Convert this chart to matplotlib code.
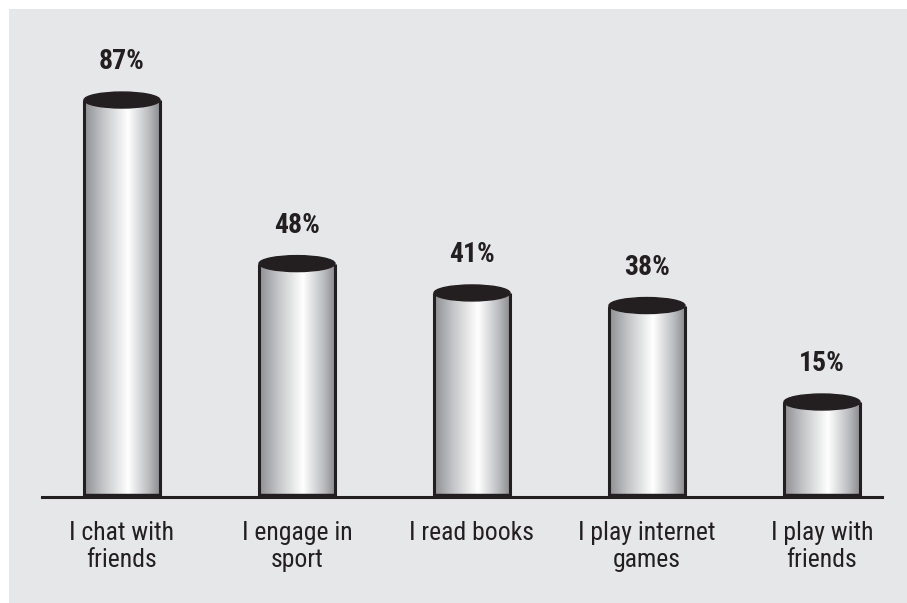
import numpy as np
import matplotlib
matplotlib.use("Agg")
import matplotlib.pyplot as plt
from matplotlib import font_manager
from matplotlib.patches import Rectangle, Ellipse
from matplotlib.colors import LinearSegmentedColormap

categories = ["I chat with\nfriends", "I engage in\nsport", "I read books",
              "I play internet\ngames", "I play with\nfriends"]
values = [87, 48, 41, 38, 15]
value_labels = ["87%", "48%", "41%", "38%", "15%"]

INK = "#231f20"
PANEL = "#e6e7e8"

# prefer a narrow sans face; fall back to a regular one at a smaller size
installed = {f.name for f in font_manager.fontManager.ttflist}
condensed = {f.name for f in font_manager.fontManager.ttflist
             if str(f.stretch) in ("condensed", "semi-condensed", "extra-condensed")
             or "Condensed" in f.name or "Narrow" in f.name}
FONT = None
STRETCH = "normal"
for name in ["Liberation Sans Narrow", "Arial Narrow", "Roboto Condensed",
             "Open Sans Condensed", "DejaVu Sans Condensed"]:
    if name in installed:
        FONT = name
        break
if FONT is None and "DejaVu Sans" in condensed:
    FONT, STRETCH = "DejaVu Sans", "condensed"
if FONT is None:
    FONT, SIZE, VSIZE = "Liberation Sans", 16.5, 17
else:
    SIZE, VSIZE = 18.5, 20
FAMILY = [FONT, "Liberation Sans", "DejaVu Sans"]

W, H = 907, 603
fig = plt.figure(figsize=(W / 100, H / 100), dpi=100)
fig.patch.set_facecolor("white")

# grey panel behind the chart
fig.add_artist(Rectangle((9 / W, -0.05), 1.1, 1.05 - 9 / H,
                         transform=fig.transFigure, facecolor=PANEL,
                         edgecolor="none", zorder=0))

base_px = 497          # baseline, pixels from top
left_px, right_px = 42, 882
top_px = 10
ax = fig.add_axes([left_px / W, (H - base_px) / H,
                   (right_px - left_px) / W, (base_px - top_px) / H])
ax.set_facecolor("none")
for s in ax.spines.values():
    s.set_visible(False)
ax.set_xticks([])
ax.set_yticks([])

step_px = 175.0
first_px = 122.0
ax.set_xlim(-(first_px - left_px) / step_px,
            (len(values) - 1) + (right_px - (first_px + step_px * (len(values) - 1))) / step_px)
y0 = -7.65
px_per_unit = 4.194
ax.set_ylim(y0, y0 + (base_px - top_px) / px_per_unit)

bar_w = 76 / step_px
ell_h = 16 / px_per_unit

# horizontal shading of the cylinder body
cyl = LinearSegmentedColormap.from_list(
    "cyl", [(0.0, "#8e8f92"), (0.25, "#c4c5c7"), (0.58, "#ffffff"),
            (0.85, "#bcbdbf"), (1.0, "#8c8d90")])
grad = np.linspace(0, 1, 256).reshape(1, -1)

for i, v in enumerate(values):
    x0 = i - bar_w / 2
    rect = Rectangle((x0, y0), bar_w, v - y0, facecolor="none",
                     edgecolor="none")
    ax.add_patch(rect)
    im = ax.imshow(grad, cmap=cyl, aspect="auto",
                   extent=(x0, x0 + bar_w, y0, v), zorder=2,
                   interpolation="bilinear")
    im.set_clip_path(rect)
    ax.plot([x0, x0], [y0, v], color=INK, lw=2.2, zorder=3,
            solid_capstyle="butt")
    ax.plot([x0 + bar_w, x0 + bar_w], [y0, v], color=INK, lw=2.2, zorder=3,
            solid_capstyle="butt")
    ax.plot([x0 - 0.005, x0 + bar_w + 0.005], [y0 + 0.35, y0 + 0.35],
            color=INK, lw=3.2, zorder=3, solid_capstyle="butt")
    ax.add_patch(Ellipse((i, v), bar_w, ell_h, facecolor=INK,
                         edgecolor=INK, lw=1.0, zorder=4))
    ax.annotate(value_labels[i], (i, v + ell_h / 2), xytext=(0, 12),
                textcoords="offset points", ha="center", va="bottom",
                fontsize=VSIZE, fontweight="bold", color=INK, family=FAMILY,
                fontstretch=STRETCH, zorder=5, annotation_clip=False)
    ax.text(i, y0 - 24 / px_per_unit, categories[i], ha="center", va="top",
            fontsize=SIZE, color=INK, family=FAMILY, fontstretch=STRETCH,
            linespacing=1.15, clip_on=False)

# baseline
ax.axhline(y0, color=INK, lw=2.2, zorder=3, clip_on=False)

fig.savefig("out.png", dpi=100, facecolor=fig.get_facecolor())
